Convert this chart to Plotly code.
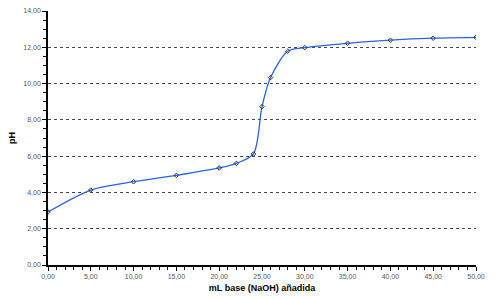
import plotly.graph_objects as go

ml_base = [0, 5, 10, 15, 20, 22, 24, 25, 26, 28, 30, 35, 40, 45, 50]
ph = [2.92, 4.13, 4.59, 4.94, 5.35, 5.60, 6.12, 8.73, 10.33, 11.78, 11.98, 12.22, 12.39, 12.50, 12.55]

x_title = "mL base (NaOH) añadida"
y_title = "pH"

fig = go.Figure()
fig.add_trace(go.Scatter(
    x=ml_base, y=ph, mode="lines+markers",
    line=dict(color="#2a62e8", width=1.3, shape="spline", smoothing=0.8),
    marker=dict(symbol="diamond-open", size=3.5, color="#333333", line=dict(width=1)),
    showlegend=False,
))

tickfont = dict(family="Liberation Sans, Arial", size=7, color="#555555")
fig.update_layout(
    width=500, height=300,
    margin=dict(l=48, r=24, t=11, b=35),
    paper_bgcolor="white", plot_bgcolor="white",
    separators=",.",
    xaxis=dict(
        range=[0, 50], dtick=5, tickformat=".2f", tickfont=tickfont,
        showline=True, linecolor="black", linewidth=1.5,
        ticks="outside", ticklen=4, tickcolor="black",
        minor=dict(dtick=1, ticks="outside", ticklen=3, tickcolor="black", showgrid=False),
        showgrid=False, zeroline=False, automargin=False,
        title=dict(text=x_title, font=dict(family="Liberation Sans, Arial", size=9, color="black", weight="bold"), standoff=6),
    ),
    yaxis=dict(
        range=[0, 14], dtick=2, tickformat=".2f", tickfont=tickfont,
        showline=True, linecolor="black", linewidth=1.5,
        ticks="outside", ticklen=4, tickcolor="black",
        minor=dict(dtick=0.5, ticks="outside", ticklen=3, tickcolor="black", showgrid=False),
        showgrid=True, gridcolor="#444444", griddash="dot", gridwidth=1,
        zeroline=False, automargin=False,
        title=dict(text=y_title, font=dict(family="Liberation Sans, Arial", size=9, color="black", weight="bold"), standoff=6),
    ),
)

fig.write_html("out.html")
